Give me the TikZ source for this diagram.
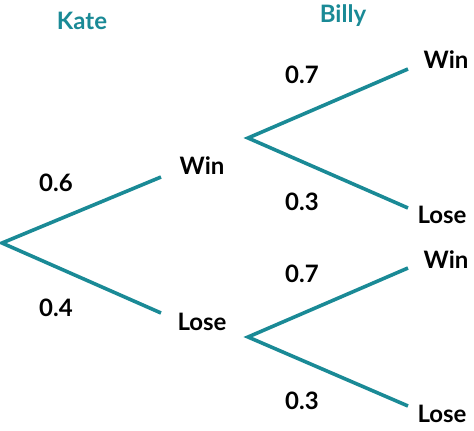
\documentclass[tikz,border=0pt]{standalone}
\usepackage{fontspec}
\setmainfont{Lato}
\definecolor{teal1}{HTML}{1A8A96}
\begin{document}
\begin{tikzpicture}[x=1pt,y=-1pt,
  br/.style={draw=teal1,line width=3.6pt},
  lbl/.style={font=\fontsize{24}{28}\selectfont\bfseries,text=black,inner sep=0pt},
  hd/.style={font=\fontsize{24}{28}\selectfont\bfseries,text=teal1,inner sep=0pt}]
\useasboundingbox (0,0) rectangle (474,431);
\coordinate (r) at (2,243);
\coordinate (a1) at (161,177);
\coordinate (a2) at (161,313);
\coordinate (b) at (248,138);
\coordinate (c) at (248,337);
\coordinate (b1) at (408,69);
\coordinate (b2) at (408,208);
\coordinate (c1) at (408,268);
\coordinate (c2) at (408,406);
\draw[br] (a1) -- (r) -- (a2);
\draw[br] (b1) -- (b) -- (b2);
\draw[br] (c1) -- (c) -- (c2);
\node[hd] (kate) at (82,21) {Kate};
\node[hd] (billy) at (343,16) {Billy};
\node[lbl] (w1) at (202,166) {Win};
\node[lbl] (l1) at (202,322) {Lose};
\node[lbl] (p6) at (56,183) {0.6};
\node[lbl] (p4) at (56,308) {0.4};
\node[lbl] (p7a) at (302,75) {0.7};
\node[lbl] (p3a) at (302,202) {0.3};
\node[lbl] (p7b) at (302,274) {0.7};
\node[lbl] (p3b) at (302,401) {0.3};
\node[lbl] (w2) at (446,60) {Win};
\node[lbl] (l2) at (442,215) {Lose};
\node[lbl] (w3) at (446,260) {Win};
\node[lbl] (l3) at (442,414) {Lose};
\end{tikzpicture}
\end{document}
